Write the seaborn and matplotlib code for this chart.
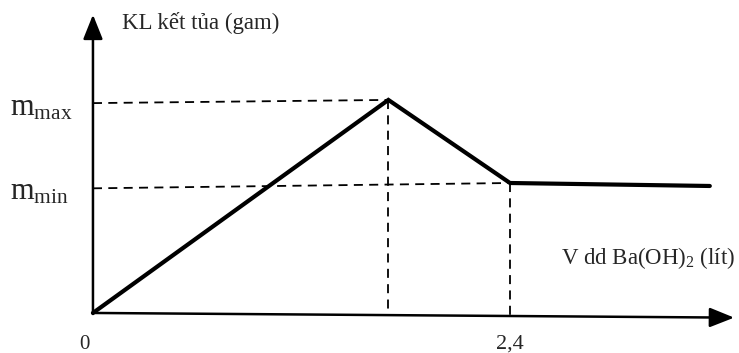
import matplotlib
matplotlib.use("Agg")
import matplotlib.pyplot as plt
import seaborn as sns
import pandas as pd

sns.set_theme(style="white")
plt.rcParams['font.family'] = ['Liberation Serif', 'DejaVu Serif']
plt.rcParams['mathtext.fontset'] = 'custom'
plt.rcParams['mathtext.rm'] = 'Liberation Serif'
plt.rcParams['mathtext.it'] = 'Liberation Serif'

# Data (V in litres, mass in arbitrary units)
v_points = [0.0, 1.70, 2.4, 3.55]
mass_points = [0.0, 1.0, 0.61, 0.596]
x_tick_values = [0, 2.4]
x_tick_labels = ["0", "2,4"]
y_level_labels = [r"$\mathrm{m}_{\mathrm{max}}$", r"$\mathrm{m}_{\mathrm{min}}$"]
y_axis_title = "KL kết tủa (gam)"
x_axis_title = r"V dd Ba(OH)$_{\mathrm{2}}$ (lít)"

df = pd.DataFrame({"V": v_points, "m": mass_points})

fig = plt.figure(figsize=(7.39, 3.53), dpi=100)
ax = fig.add_axes([0, 0, 1, 1])
ax.set_xlim(-0.535, 3.718)
ax.set_ylim(-0.188, 1.469)
ax.axis("off")

# dashed guide lines
peak_v, peak_m = v_points[1], mass_points[1]
knee_v, knee_m = v_points[2], mass_points[2]
dash = dict(color="black", lw=1.3, ls=(0, (5, 3.5)), zorder=1)
ax.plot([0, peak_v], [peak_m - 0.015, peak_m], **dash)
ax.plot([0, knee_v], [knee_m - 0.025, knee_m], **dash)
ax.plot([peak_v, peak_v], [peak_m, -0.01], **dash)
ax.plot([knee_v, knee_v], [knee_m, -0.02], **dash)

# main line
sns.lineplot(data=df, x="V", y="m", ax=ax, color="black", lw=3.0,
             sort=False, zorder=3, solid_joinstyle="miter")
ax.set_xlabel("")
ax.set_ylabel("")

# axes arrows
arrow = dict(arrowstyle="-|>,head_length=0.75,head_width=0.3", color="black",
             lw=1.8, mutation_scale=20, shrinkA=0, shrinkB=0)
ax.annotate("", xy=(0, 1.40), xytext=(0, -0.005), arrowprops=arrow)
ax.annotate("", xy=(3.69, -0.022), xytext=(-0.005, 0.0), arrowprops=arrow)

# labels
ax.text(-0.05, -0.148, x_tick_labels[0], fontsize=15, ha="center", va="center")
ax.text(x_tick_values[1], -0.148, x_tick_labels[1], fontsize=16, ha="center", va="center")
ax.text(-0.48, peak_m - 0.04, y_level_labels[0], fontsize=22, ha="left", va="center")
ax.text(-0.48, knee_m - 0.04, y_level_labels[1], fontsize=22, ha="left", va="center")
ax.text(0.165, 1.36, y_axis_title, fontsize=16.5, ha="left", va="center")
ax.text(3.695, 0.26, x_axis_title, fontsize=16.5, ha="right", va="center")

fig.savefig("out.png", dpi=100)
